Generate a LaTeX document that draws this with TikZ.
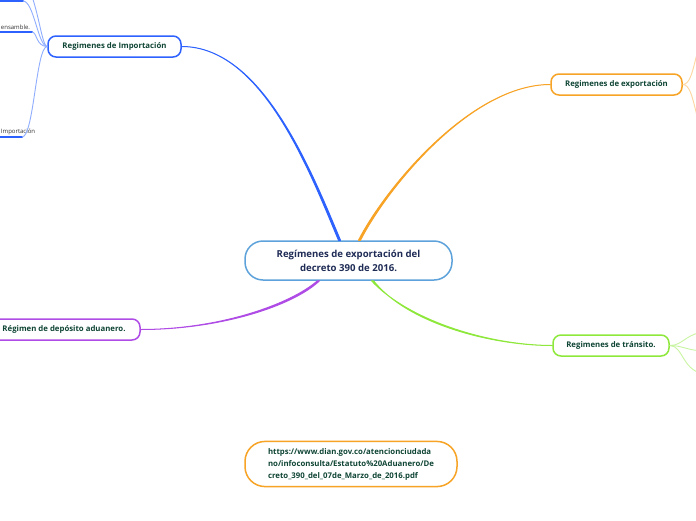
\documentclass[tikz,border=0pt]{standalone}
\usepackage{fontspec}
\setmainfont{Open Sans}
\usetikzlibrary{calc, positioning}
\definecolor{impblue}{HTML}{2E62FF}
\definecolor{implight}{HTML}{8FAEFF}
\definecolor{exporange}{HTML}{F7A325}
\definecolor{explight}{HTML}{FCD69E}
\definecolor{trgreen}{HTML}{8EE83C}
\definecolor{trlight}{HTML}{C9F5A2}
\definecolor{deppurple}{HTML}{B04CE6}
\definecolor{mainblue}{HTML}{5DA2DA}
\definecolor{maintext}{HTML}{1E2B55}
\definecolor{topictext}{HTML}{0F4535}
\definecolor{subtext}{HTML}{333333}

\begin{document}
\begin{tikzpicture}[x=0.5pt, y=-0.5pt, thick, >=latex,
    topic/.style={draw, fill=white, rounded corners=4pt, line width=0.75pt, minimum height=10.5pt, inner sep=0pt, text=topictext, font=\fontsize{3.9}{4.7}\selectfont\bfseries},
    subtopic/.style={inner sep=0.6pt, text=subtext, font=\fontsize{3}{3.6}\selectfont},
    branch/.style={line width=0.5pt, line join=round},
    twig/.style={line width=0.45pt},
    underl/.style={line width=1.1pt, line cap=round}]
    \clip (0,0) rectangle (696,520);
    \fill[white] (0,0) rectangle (696,520);

    % central idea
    \node[draw=mainblue, fill=white, line width=0.75pt, rounded corners=9pt, minimum width=103.5pt, minimum height=19.5pt, align=center, text=maintext, font=\fontsize{4.8}{7}\selectfont\bfseries] (main) at (348.5,260.5) {Regímenes de exportación del\\decreto 390 de 2016.};

    % main topics
    \node[topic, draw=impblue, minimum width=66.5pt] (imp) at (114.5,46.5) {Regimenes de Importación};
    \node[topic, draw=exporange, minimum width=65.5pt] (exp) at (616.5,84.5) {Regimenes de exportación};
    \node[topic, draw=trgreen, minimum width=58pt] (tra) at (611,345.5) {Regimenes de tránsito.};
    \node[topic, draw=deppurple, minimum width=76pt] (dep) at (64,329.5) {Régimen de depósito aduanero.};
    \node[draw=exporange, fill=white, line width=0.75pt, rounded corners=10pt, minimum width=106pt, minimum height=22pt, align=left, text=topictext, font=\fontsize{3.9}{6}\selectfont\bfseries] (url) at (351,464) {https://www.dian.gov.co/atencionciudada\\no/infoconsulta/Estatuto\%20Aduanero/De\\creto\_390\_del\_07de\_Marzo\_de\_2016.pdf};

    % branches from the central idea (tapered)
    \filldraw[branch, impblue] ($(main.north)+(-10,0)$) .. controls (309,170) and (262,46.5) .. (imp.east)
        .. controls (262,46.5) and (311,170) .. ($(main.north)+(-8,0)$) -- cycle;
    \filldraw[branch, exporange] ($(main.north)+(10,0)$) .. controls (384,190) and (470,84.5) .. (exp.west)
        .. controls (470,84.5) and (386,190) .. ($(main.north)+(12,0)$) -- cycle;
    \filldraw[branch, deppurple] ($(main.south)+(-31,0)$) .. controls (291,304) and (220,329.5) .. (dep.east)
        .. controls (220,329.5) and (293,306) .. ($(main.south)+(-29,0)$) -- cycle;
    \filldraw[branch, trgreen] ($(main.south)+(23,0)$) .. controls (409,321) and (490,345.5) .. (tra.west)
        .. controls (490,345.5) and (407,323) .. ($(main.south)+(25,0)$) -- cycle;

    % subtopics of Importacion (cut by the border)
    \node[subtopic, anchor=south east] (impa) at (23,1) {};
    \node[subtopic, anchor=south east] (impb) at (14,-30) {};
    \node[subtopic, anchor=south west] (impc) at (-1,32) {ensamble.};
    \node[subtopic, anchor=south west] (impd) at (-1,137) {Importación};
    \draw[underl, impblue] (-20,1) -- (impa.south east);
    \draw[underl, impblue] (-20,32) -- (impc.south east);
    \coordinate (impdend) at (22,137);
    \draw[underl, impblue] (impd.south west) -- (impdend);
    \draw[twig, implight] (imp.west) .. controls (38,46.5) and (34,1) .. (impa.south east);
    \draw[twig, implight] (imp.west) .. controls (40,46.5) and (37,-20) .. (impb.south east);
    \draw[twig, implight] (imp.west) .. controls (36,46.5) and (37,32) .. (impc.south east);
    \draw[twig, implight] (imp.west) .. controls (36,46.5) and (34,137) .. (impdend);

    % subtopics of exportacion and transito (outside the frame)
    \coordinate (expa) at (708,38);
    \coordinate (expb) at (708,132);
    \draw[twig, explight] (exp.east) .. controls (696,84.5) and (694,38) .. (expa);
    \draw[twig, explight] (exp.east) .. controls (696,84.5) and (694,132) .. (expb);
    \coordinate (traa) at (708,332);
    \coordinate (trab) at (708,351);
    \coordinate (trac) at (708,374);
    \draw[twig, trlight] (tra.east) .. controls (684,345.5) and (686,332) .. (traa);
    \draw[twig, trlight] (tra.east) .. controls (684,345.5) and (686,351) .. (trab);
    \draw[twig, trlight] (tra.east) .. controls (684,345.5) and (682,374) .. (trac);
\end{tikzpicture}
\end{document}
